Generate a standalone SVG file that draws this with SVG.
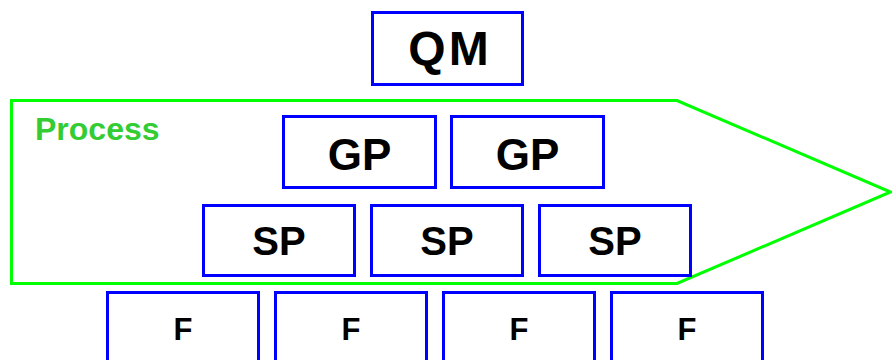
<svg xmlns="http://www.w3.org/2000/svg" width="892" height="360" viewBox="0 0 892 360">
  <style>
    .box { fill: #ffffff; stroke: #0000ff; stroke-width: 3; }
    .lbl { font-family: "Liberation Sans", Arial, sans-serif; font-weight: bold; fill: #000000; text-anchor: middle; }
    .qm { font-size: 48px; letter-spacing: 3px; }
    .gp { font-size: 44px; }
    .sp { font-size: 40px; }
    .f  { font-size: 31px; }
    .band { fill: none; stroke: #00ff00; stroke-width: 3; stroke-linejoin: miter; }
    .band-title { font-family: "Liberation Sans", Arial, sans-serif; font-weight: bold; font-size: 32px; fill: #33cc33; }
  </style>

  <rect width="892" height="360" fill="#ffffff"/>

  <!-- process band (arrow-shaped outline) -->
  <g id="process">
    <polygon class="band" points="11.5,100.5 677,100.5 890.5,192 677,283.5 11.5,283.5"/>
    <text class="band-title" x="35" y="140">Process</text>
  </g>

  <g id="qm">
    <rect class="box" x="372.5" y="12.5" width="150" height="72"/>
    <text class="lbl qm" x="450" y="65">QM</text>
  </g>

  <g id="gp1">
    <rect class="box" x="283.5" y="116.5" width="152" height="71"/>
    <text class="lbl gp" x="359.5" y="170">GP</text>
  </g>
  <g id="gp2">
    <rect class="box" x="451.5" y="116.5" width="152" height="71"/>
    <text class="lbl gp" x="527.5" y="170">GP</text>
  </g>

  <g id="sp1">
    <rect class="box" x="203.5" y="205.5" width="151" height="70"/>
    <text class="lbl sp" x="279" y="255">SP</text>
  </g>
  <g id="sp2">
    <rect class="box" x="371.5" y="205.5" width="151" height="70"/>
    <text class="lbl sp" x="447" y="255">SP</text>
  </g>
  <g id="sp3">
    <rect class="box" x="539.5" y="205.5" width="151" height="70"/>
    <text class="lbl sp" x="615" y="255">SP</text>
  </g>

  <g id="f1">
    <rect class="box" x="107.5" y="292.5" width="151" height="80"/>
    <text class="lbl f" x="183" y="339.5">F</text>
  </g>
  <g id="f2">
    <rect class="box" x="275.5" y="292.5" width="151" height="80"/>
    <text class="lbl f" x="351" y="339.5">F</text>
  </g>
  <g id="f3">
    <rect class="box" x="443.5" y="292.5" width="151" height="80"/>
    <text class="lbl f" x="519" y="339.5">F</text>
  </g>
  <g id="f4">
    <rect class="box" x="611.5" y="292.5" width="151" height="80"/>
    <text class="lbl f" x="687" y="339.5">F</text>
  </g>

  <g id="connectors"></g>
</svg>
